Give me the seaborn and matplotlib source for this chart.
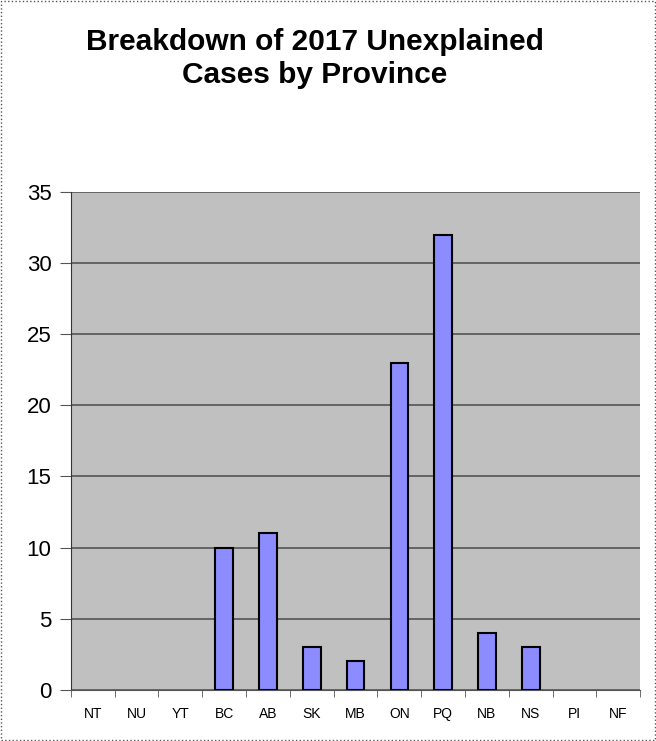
import numpy as np
import seaborn as sns
import matplotlib.pyplot as plt
import pandas as pd

provinces = ['NT', 'NU', 'YT', 'BC', 'AB', 'SK', 'MB', 'ON', 'PQ', 'NB', 'NS', 'PI', 'NF']
cases = [0, 0, 0, 10, 11, 3, 2, 23, 32, 4, 3, 0, 0]
y_ticks = [0, 5, 10, 15, 20, 25, 30, 35]

df = pd.DataFrame({'Province': provinces, 'Cases': cases})

sns.set_style('white')
plt.rcParams['font.family'] = ['Liberation Sans', 'DejaVu Sans']
plt.rcParams['text.color'] = 'black'
plt.rcParams['xtick.color'] = 'black'
plt.rcParams['ytick.color'] = 'black'

fig = plt.figure(figsize=(6.56, 7.41), dpi=100)
ax = fig.add_axes([0.108, 0.069, 0.868, 0.672])

sns.barplot(x='Province', y='Cases', data=df, color='#8c8cff', width=0.4,
            edgecolor='black', linewidth=1.5, saturation=1, ax=ax, zorder=3)

# empty provinces show no bar outline
for p in ax.patches:
    if p.get_height() == 0:
        p.set_visible(False)

ax.set_facecolor('#c0c0c0')
ax.set_ylim(0, 35)
ax.set_xlim(-0.5, len(provinces) - 0.5)
ax.set_yticks(y_ticks)
ax.yaxis.grid(True, color='#555555', linewidth=1.2, zorder=0)
ax.set_axisbelow(True)
ax.set_xlabel('')
ax.set_ylabel('')

# ticks between categories on x
ax.set_xticks(np.arange(len(provinces)))
ax.set_xticklabels(provinces, fontsize=10)
ax.set_xticks(np.arange(len(provinces) + 1) - 0.5, minor=True)
ax.tick_params(axis='x', which='major', length=0, pad=12)
ax.tick_params(axis='x', which='minor', length=5, color='#555555', bottom=True)
ax.tick_params(axis='y', length=8, color='#555555', labelsize=16, left=True, pad=6)

for s in ['top', 'right']:
    ax.spines[s].set_visible(False)
ax.spines['left'].set_color('#333333')
ax.spines['bottom'].set_color('#555555')

fig.text(0.48, 0.921, 'Breakdown of 2017 Unexplained\nCases by Province',
         ha='center', va='center', fontsize=21.5, fontweight='bold', linespacing=1.22)

fig.patches.append(plt.Rectangle((0.002, 0.002), 0.996, 0.996, transform=fig.transFigure,
                                 fill=False, edgecolor='#555555', linestyle=':', linewidth=1))

fig.savefig('out.png', dpi=100)
